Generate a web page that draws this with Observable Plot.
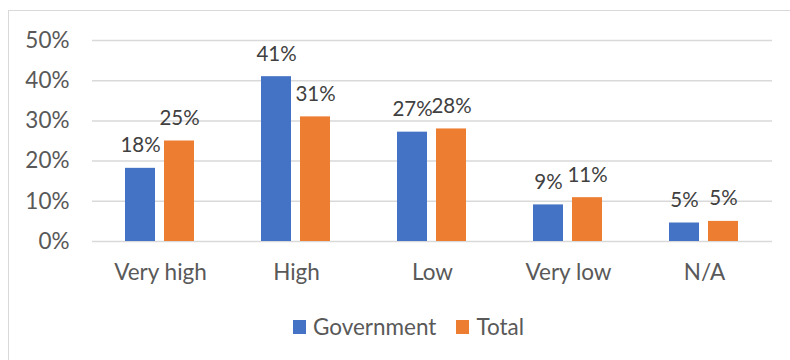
<!DOCTYPE html>
<html>
<head>
<meta charset="utf-8">
<script src="https://cdn.jsdelivr.net/npm/d3@7"></script>
<script src="https://cdn.jsdelivr.net/npm/@observablehq/plot@0.6"></script>
<style>
  html, body { margin: 0; padding: 0; background: #fff; }
  body { width: 790px; height: 360px; overflow: hidden; position: relative; font-family: Lato, "Open Sans", sans-serif; }
  #frame { position: absolute; left: 8px; top: 10px; width: 820px; height: 400px; border: 1.5px solid #d9d9d9; box-sizing: border-box; }
  #chart { position: absolute; left: 0; top: 0; }
  #legend { position: absolute; top: 313px; left: 0; width: 817px; display: flex; justify-content: center; align-items: center; font-size: 22.5px; color: #595959; }
  .item { display: flex; align-items: center; margin: 0 10px; }
  .sw { width: 13px; height: 14px; margin-right: 7px; }
</style>
</head>
<body>
<div id="frame"></div>
<div id="chart"></div>
<div id="legend"></div>
<script>
const categories = ["Very high", "High", "Low", "Very low", "N/A"];
const seriesNames = ["Government", "Total"];
const government = [0.182, 0.41, 0.272, 0.091, 0.046];
const total = [0.25, 0.31, 0.28, 0.109, 0.05];
const yTicks = [0, 0.1, 0.2, 0.3, 0.4, 0.5];
const colors = ["#4472C4", "#ED7D31"];

const data = [];
categories.forEach((c, i) => {
  data.push({category: c, series: "Government", value: government[i]});
  data.push({category: c, series: "Total", value: total[i]});
});

const fmt = d3.format(".0%");
const FS = 22.5;

const plot = Plot.plot({
  width: 790,
  height: 300,
  marginLeft: 90,
  marginRight: 16,
  marginTop: 40,
  marginBottom: 59,
  style: {fontFamily: "Lato, 'Open Sans', sans-serif", background: "transparent"},
  fx: {domain: categories, padding: 0, label: null},
  x: {domain: seriesNames, paddingInner: 0.225, paddingOuter: 0.82, axis: null},
  y: {domain: [0, 0.5], axis: null},
  color: {domain: seriesNames, range: colors},
  marks: [
    Plot.gridY(yTicks, {stroke: "#d9d9d9", strokeOpacity: 1, strokeWidth: 1.5}),
    Plot.axisY(yTicks, {tickSize: 0, tickPadding: 23, tickFormat: fmt, fontSize: FS, fill: "#595959", label: null}),
    Plot.axisFx({anchor: "bottom", tickSize: 0, tickPadding: 23, fontSize: FS, fill: "#595959", label: null}),
    Plot.barY(data, {fx: "category", x: "series", y: "value", fill: "series"}),
    Plot.text(data, {fx: "category", x: "series", y: "value", text: d => fmt(d.value), lineAnchor: "bottom", dy: -16, fontSize: 20.5, fill: "#404040"})
  ]
});
document.getElementById("chart").appendChild(plot);

const legend = document.getElementById("legend");
seriesNames.forEach((s, i) => {
  const it = document.createElement("div");
  it.className = "item";
  const sw = document.createElement("div");
  sw.className = "sw";
  sw.style.background = colors[i];
  const t = document.createElement("span");
  t.textContent = s;
  it.appendChild(sw);
  it.appendChild(t);
  legend.appendChild(it);
});
</script>
</body>
</html>
